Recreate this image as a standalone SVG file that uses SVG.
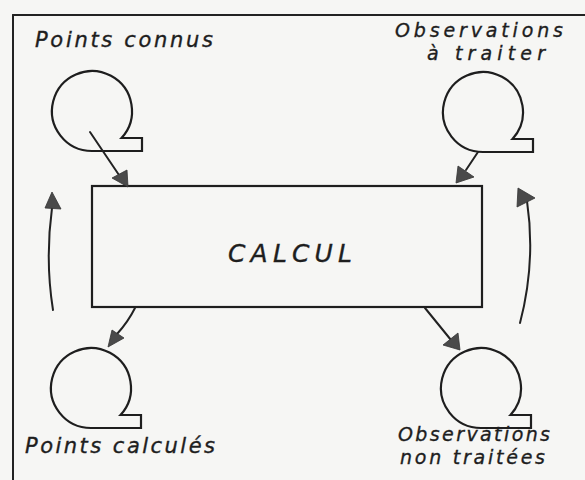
<svg xmlns="http://www.w3.org/2000/svg" width="585" height="480" viewBox="0 0 585 480">
<style>
.ln{fill:none;stroke:#222;stroke-width:2;stroke-linecap:round}
.ah{fill:#4a4a4a;stroke:#333;stroke-width:0.8;stroke-linejoin:round}
.tape{fill:none;stroke:#1e1e1e;stroke-width:2.2;stroke-linejoin:miter}
.lbl{font-family:"DejaVu Sans","Liberation Sans",sans-serif;font-style:italic;font-size:21px;fill:#1e1e1e;stroke:#1e1e1e;stroke-width:0.35}
.sm{font-size:19px}
.big{font-size:25px}
</style>
<defs>
<path id="tapeShape" d="M0,40 H50 V27 H29.5 A40,40 0 1 0 0,40 Z"/>
</defs>
<rect width="585" height="480" fill="#f6f6f4"/>
<g id="frame">
<line x1="13" y1="15" x2="13" y2="480" class="ln" stroke-width="1.8"/>
<line x1="13" y1="15" x2="585" y2="15" class="ln" stroke-width="2.2"/>
</g>
<g id="points-connus">
<use href="#tapeShape" x="92" y="111" class="tape"/>
<text x="35" y="47" class="lbl" textLength="178" lengthAdjust="spacing">Points connus</text>
</g>
<g id="observations-a-traiter">
<use href="#tapeShape" x="483" y="112" class="tape"/>
<text x="395" y="37" class="lbl sm" textLength="168" lengthAdjust="spacing">Observations</text>
<text x="427" y="60" class="lbl sm" textLength="118" lengthAdjust="spacing">à traiter</text>
</g>
<g id="calcul">
<rect x="92" y="186" width="390" height="121" fill="none" stroke="#1e1e1e" stroke-width="2.2"/>
<text x="228" y="262" class="lbl big" textLength="124" lengthAdjust="spacing">CALCUL</text>
</g>
<g id="points-calcules">
<use href="#tapeShape" x="91" y="388" class="tape"/>
<text x="25" y="453" class="lbl" textLength="190" lengthAdjust="spacing">Points calculés</text>
</g>
<g id="observations-non-traitees">
<use href="#tapeShape" x="481" y="388" class="tape"/>
<text x="398" y="441" class="lbl sm" textLength="152" lengthAdjust="spacing">Observations</text>
<text x="400" y="464" class="lbl sm" textLength="145" lengthAdjust="spacing">non traitées</text>
</g>
<g id="connectors">
<path class="ln" d="M90,132 L121,178"/>
<polygon class="ah" points="128,187 112,178 127,170"/>
<path class="ln" d="M478,152 L466,170"/>
<polygon class="ah" points="456,183 458,166 474,177"/>
<path class="ln" d="M135,308 Q128,322 117,334"/>
<polygon class="ah" points="108,347 112,330 124,338"/>
<path class="ln" d="M425,308 L451,340"/>
<polygon class="ah" points="460,350 443,345 458,333"/>
<path class="ln" d="M53,310 Q45,260 52,208"/>
<polygon class="ah" points="52,192 45,208 61,209"/>
<path class="ln" d="M520,323 Q536,262 527,201"/>
<polygon class="ah" points="518,188 535,198 517,207"/>
</g>
</svg>
